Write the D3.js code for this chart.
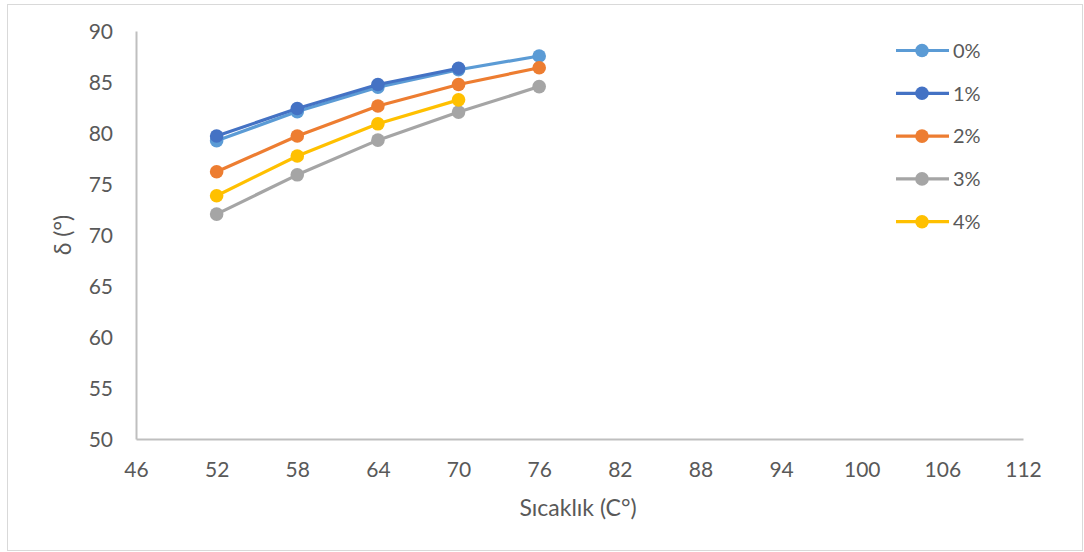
<!DOCTYPE html>
<html><head><meta charset="utf-8">
<script src="https://cdn.jsdelivr.net/npm/d3@7"></script>
<style>
html,body{margin:0;padding:0;background:#fff;}
svg{display:block;font-family:Lato,"Open Sans",sans-serif;}
</style></head>
<body>
<svg id="c" width="1084" height="552"></svg>
<script>
const temps = [52, 58, 64, 70, 76];
const seriesNames = ["0%", "1%", "2%", "3%", "4%"];
const s0 = [79.25, 82.1, 84.5, 86.2, 87.55];
const s1 = [79.7, 82.4, 84.75, 86.35];
const s2 = [76.2, 79.7, 82.65, 84.75, 86.4];
const s3 = [72.05, 75.9, 79.3, 82.05, 84.55];
const s4 = [73.85, 77.75, 80.9, 83.25];
const colors = ["#5B9BD5", "#4472C4", "#ED7D31", "#A5A5A5", "#FFC000"];
const xTicks = [46, 52, 58, 64, 70, 76, 82, 88, 94, 100, 106, 112];
const yTicks = [50, 55, 60, 65, 70, 75, 80, 85, 90];
const xTitle = "Sıcaklık (C°)";
const yTitle = "δ (°)";

const allSeries = [s0, s1, s2, s3, s4];
const svg = d3.select("#c");
const W = 1084, H = 552;
const m = {left: 136, right: 1023, top: 31, bottom: 439};

svg.append("rect").attr("x", 7.5).attr("y", 4.5).attr("width", W - 9).attr("height", H - 6)
  .attr("fill", "#fff").attr("stroke", "#d9d9d9").attr("stroke-width", 1);

const x = d3.scaleLinear().domain([46, 112]).range([m.left, m.right]);
const y = d3.scaleLinear().domain([50, 90]).range([m.bottom, m.top]);

const xAxis = svg.append("g").attr("transform", `translate(0,${m.bottom})`)
  .call(d3.axisBottom(x).tickValues(xTicks).tickSize(0).tickPadding(22));
const yAxis = svg.append("g").attr("transform", `translate(${m.left},0)`)
  .call(d3.axisLeft(y).tickValues(yTicks).tickSize(0).tickPadding(23));
[xAxis, yAxis].forEach(a => {
  a.select(".domain").attr("stroke", "#bfbfbf").attr("stroke-width", 2);
  a.selectAll("text").attr("fill", "#595959").style("font-size", "21px").style("font-family", "Lato, 'Open Sans', sans-serif");
});
xAxis.selectAll("text").attr("dy", "0.71em").attr("y", 23);
yAxis.selectAll("text").attr("dy", "0.36em");

svg.append("text").attr("x", 578).attr("y", 516)
  .attr("text-anchor", "middle").attr("fill", "#595959").style("font-size", "23px").text(xTitle);
svg.append("text").attr("transform", `translate(71,${(m.top + m.bottom) / 2}) rotate(-90)`)
  .attr("text-anchor", "middle").attr("fill", "#595959").style("font-size", "23px").text(yTitle);

const line = d3.line().x((d, i) => x(temps[i])).y(d => y(d));
allSeries.forEach((s, k) => {
  const g = svg.append("g");
  g.append("path").datum(s).attr("d", line).attr("fill", "none")
    .attr("stroke", colors[k]).attr("stroke-width", 3.2).attr("stroke-linejoin", "round").attr("stroke-linecap", "round");
  g.selectAll("circle").data(s).join("circle")
    .attr("cx", (d, i) => x(temps[i])).attr("cy", d => y(d)).attr("r", 6.8)
    .attr("fill", colors[k]);
});

// legend
const leg = svg.append("g");
seriesNames.forEach((n, k) => {
  const ly = 50.5 + k * 42.8;
  leg.append("line").attr("x1", 896).attr("x2", 949).attr("y1", ly).attr("y2", ly)
    .attr("stroke", colors[k]).attr("stroke-width", 3.2);
  leg.append("circle").attr("cx", 922).attr("cy", ly).attr("r", 6.8).attr("fill", colors[k]);
  leg.append("text").attr("x", 953).attr("y", ly).attr("dy", "0.36em")
    .attr("fill", "#595959").style("font-size", "20px").text(n);
});
</script>
</body></html>
